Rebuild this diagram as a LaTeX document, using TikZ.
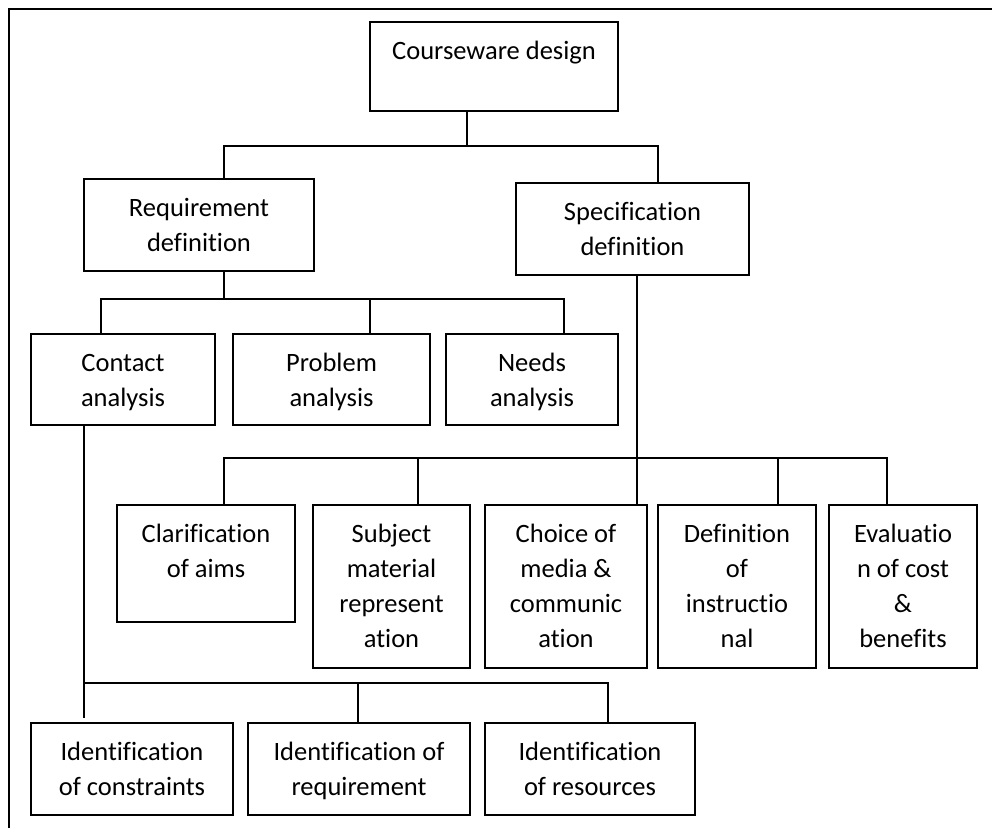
\documentclass[tikz,border=0pt]{standalone}
\usepackage{fontspec}
\setmainfont[Ligatures={NoCommon}]{Carlito}
\tikzset{
  box/.style={draw, line width=2pt, fill=white, inner sep=0pt, outer sep=0pt,
    anchor=north west, font=\fontsize{26.5}{35}\selectfont},
  conn/.style={line width=1.2pt},
  frame/.style={line width=2pt}
}
\newcommand\boxnode[6]{%
  \node[box] (#1) at (#2,#3) {\parbox[t][\dimexpr #5pt-#3pt\relax][t]{\dimexpr #4pt-#2pt\relax}{\centering\rule{0pt}{37pt}#6\par}};}
\begin{document}
\begin{tikzpicture}[x=1pt,y=-1pt]
\useasboundingbox (0,0) rectangle (992,828);
\draw[frame] (9,828) -- (9,9) -- (992,9);

\boxnode{cd}{370}{22}{618}{111}{Courseware design}
\boxnode{req}{84}{179}{314}{271}{Requirement\\definition}
\boxnode{spec}{516}{183}{749}{275}{Specification\\definition}
\boxnode{contact}{31}{334}{215}{425}{Contact\\analysis}
\boxnode{problem}{233}{334}{430}{425}{Problem\\analysis}
\boxnode{needs}{446}{334}{618}{425}{Needs\\analysis}
\boxnode{clar}{117}{505}{295}{622}{Clarification\\of aims}
\boxnode{subj}{313}{505}{470}{668}{Subject\\material\\represent\\ation}
\boxnode{choice}{485}{505}{647}{668}{Choice of\\media \&\\communic\\ation}
\boxnode{def}{658}{505}{816}{668}{Definition\\of\\instructio\\nal}
\boxnode{eval}{829}{505}{977}{668}{Evaluatio\\n of cost\\\&\\benefits}
\boxnode{ic}{31}{723}{233}{815}{Identification\\of constraints}
\boxnode{ir}{248}{723}{470}{815}{Identification of\\requirement}
\boxnode{ires}{485}{723}{695}{815}{Identification\\of resources}

% level 1 bus
\coordinate (b1L) at (224,146);
\coordinate (b1M) at (467,146);
\coordinate (b1R) at (658,146);
\draw[conn] (cd.south -| b1M) -- (b1M);
\draw[conn] (req.north -| b1L) -- (b1L) -- (b1R) -- (spec.north -| b1R);

% level 2 bus
\coordinate (b2L) at (101,299);
\coordinate (b2M) at (224,299);
\coordinate (b2P) at (370,299);
\coordinate (b2R) at (564,299);
\draw[conn] (req.south -| b2M) -- (b2M);
\draw[conn] (contact.north -| b2L) -- (b2L) -- (b2R) -- (needs.north -| b2R);
\draw[conn] (b2P) -- (problem.north -| b2P);

% level 3 bus
\coordinate (b3L) at (224,458);
\coordinate (b3a) at (418,458);
\coordinate (b3S) at (637,458);
\coordinate (b3b) at (778,458);
\coordinate (b3R) at (887,458);
\draw[conn] (spec.south -| b3S) -- (choice.north -| b3S);
\draw[conn] (clar.north -| b3L) -- (b3L) -- (b3R) -- (eval.north -| b3R);
\draw[conn] (b3a) -- (subj.north -| b3a);
\draw[conn] (b3b) -- (def.north -| b3b);

% level 4 bus
\coordinate (b4L) at (84,683);
\coordinate (b4a) at (358,683);
\coordinate (b4R) at (608,683);
\draw[conn, shorten >=5pt] (contact.south -| b4L) -- (ic.north -| b4L);
\draw[conn] (b4L) -- (b4R) -- (ires.north -| b4R);
\draw[conn] (b4a) -- (ir.north -| b4a);
\end{tikzpicture}
\end{document}
